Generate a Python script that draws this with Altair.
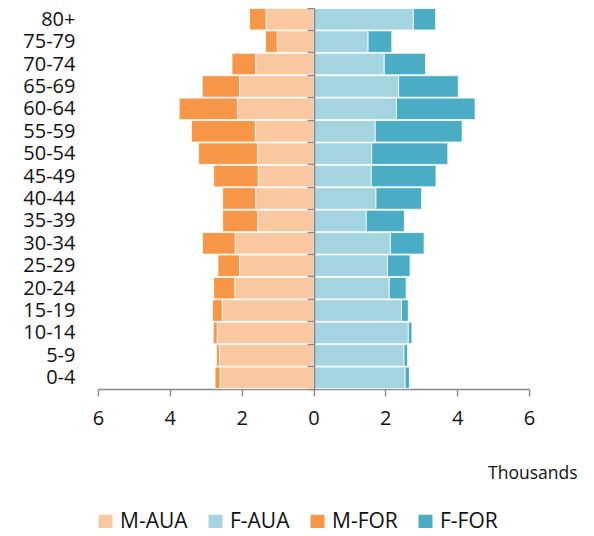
import altair as alt
import pandas as pd

ages = ["80+", "75-79", "70-74", "65-69", "60-64", "55-59", "50-54", "45-49",
        "40-44", "35-39", "30-34", "25-29", "20-24", "15-19", "10-14", "5-9", "0-4"]
m_aua = [1.32, 1.01, 1.61, 2.06, 2.12, 1.62, 1.56, 1.54, 1.61, 1.55, 2.18, 2.06, 2.19, 2.54, 2.68, 2.62, 2.60]
m_for = [0.46, 0.33, 0.66, 1.04, 1.62, 1.78, 1.64, 1.24, 0.92, 0.98, 0.91, 0.60, 0.59, 0.27, 0.11, 0.08, 0.14]
f_aua = [2.78, 1.52, 1.97, 2.37, 2.31, 1.72, 1.62, 1.61, 1.74, 1.47, 2.14, 2.06, 2.11, 2.45, 2.64, 2.52, 2.55]
f_for = [0.62, 0.66, 1.15, 1.66, 2.19, 2.42, 2.12, 1.80, 1.27, 1.06, 0.94, 0.63, 0.47, 0.19, 0.10, 0.10, 0.12]

series = ["M-AUA", "F-AUA", "M-FOR", "F-FOR"]
colors = ["#FAC8A0", "#A5D4E1", "#F79646", "#4BACC6"]

rows = []
for i, a in enumerate(ages):
    rows.append({"age": a, "series": "M-AUA", "value": -m_aua[i], "ord": 0})
    rows.append({"age": a, "series": "M-FOR", "value": -m_for[i], "ord": 1})
    rows.append({"age": a, "series": "F-AUA", "value": f_aua[i], "ord": 0})
    rows.append({"age": a, "series": "F-FOR", "value": f_for[i], "ord": 1})
df = pd.DataFrame(rows)

FONT = "Open Sans"

chart = alt.Chart(df).mark_bar(stroke="white", strokeWidth=0.8).encode(
    y=alt.Y("age:N", sort=ages,
            scale=alt.Scale(paddingInner=0.04, paddingOuter=0.02),
            axis=alt.Axis(title=None, orient="left", offset=-216, zindex=1,
                          labelPadding=232, labelFontSize=20, labelFont=FONT,
                          labelColor="#111", tickBand="extent", tickSize=7,
                          tickColor="#888", domainColor="#888", domainWidth=1.6,
                          tickWidth=1.4)),
    x=alt.X("value:Q", stack="zero",
            scale=alt.Scale(domain=[-6, 6], nice=False),
            axis=alt.Axis(values=[-6, -4, -2, 0, 2, 4, 6], labelExpr="abs(datum.value)",
                          grid=False, tickSize=7, tickColor="#888", domainColor="#888",
                          domainWidth=1.6, tickWidth=1.4, labelFontSize=20, labelFont=FONT,
                          labelColor="#111", labelPadding=12, labelFlush=False,
                          labelOverlap=False,
                          title="Thousands", titleFont=FONT, titleFontSize=17.5,
                          titleFontWeight="normal", titleColor="#111",
                          titleAlign="right", titleBaseline="alphabetic",
                          titleX=479, titleY=89, titleAnchor="start")),
    order=alt.Order("ord:Q"),
    color=alt.Color("series:N", scale=alt.Scale(domain=series, range=colors),
                    legend=alt.Legend(title=None, orient="none", direction="horizontal",
                                      legendX=-3, legendY=503, symbolType="square",
                                      symbolSize=196, symbolStrokeWidth=0,
                                      labelFontSize=21, labelFont=FONT, labelColor="#111",
                                      labelOffset=4, columnPadding=17)),
).properties(
    width=431, height=381,
    autosize=alt.AutoSizeParams(type="none"),
    padding={"left": 90, "top": 0, "right": 50, "bottom": 139},
).configure_view(stroke=None)

chart.save("out.html", embed_options={"renderer": "svg", "actions": False})
